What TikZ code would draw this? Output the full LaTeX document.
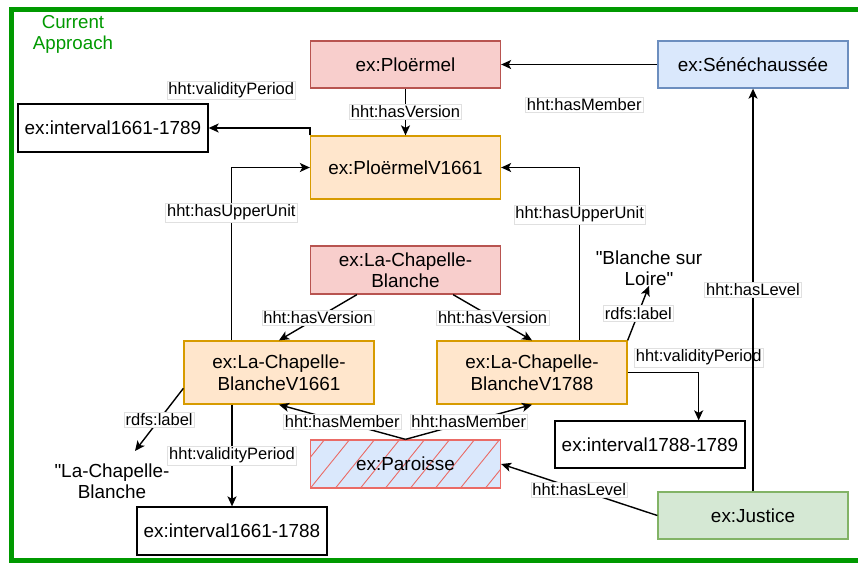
\documentclass[tikz,border=0pt]{standalone}
\usepackage{fontspec}
\setmainfont{Liberation Sans}
\newfontfamily\straightfont{Liberation Sans}
\usetikzlibrary{arrows.meta,calc}

\definecolor{redfill}{HTML}{F8CECC}
\definecolor{redline}{HTML}{B85450}
\definecolor{orangefill}{HTML}{FFE6CC}
\definecolor{orangeline}{HTML}{D79B00}
\definecolor{bluefill}{HTML}{DAE8FC}
\definecolor{blueline}{HTML}{6C8EBF}
\definecolor{greenfill}{HTML}{D5E8D4}
\definecolor{greenline}{HTML}{82B366}
\definecolor{hatchred}{HTML}{EA6B66}
\definecolor{framegreen}{HTML}{009900}

\tikzset{
  box/.style={draw, line width=1.3pt, minimum width=190pt, minimum height=47pt,
    inner sep=2pt, align=center, font=\fontsize{18.9}{21.5}\selectfont},
  tallbox/.style={box, minimum height=63pt},
  redbox/.style={box, fill=redfill, draw=redline},
  bluebox/.style={box, fill=bluefill, draw=blueline},
  greenbox/.style={box, fill=greenfill, draw=greenline},
  orangebox/.style={tallbox, fill=orangefill, draw=orangeline},
  plainbox/.style={box, fill=white, draw=black},
  hatchbox/.style={box, fill=bluefill, draw=hatchred,
    path picture={
      \foreach \k in {-3,...,9}
        \draw[hatchred, line width=0.9pt]
          ([xshift=25pt*\k]path picture bounding box.south west) -- ++(42,-52);
    }},
  literal/.style={align=center, inner sep=0pt,
    font=\straightfont\fontsize{18.9}{21.5}\selectfont},
  rel/.style={draw=black, line width=1.4pt,
    -{Stealth[length=10pt, width=9pt, inset=2.5pt]}},
  lbl/.style={fill=white, draw=black!12, line width=0.4pt, inner sep=1.6pt,
    font=\fontsize{16.5}{19}\selectfont},
}

\begin{document}
\begin{tikzpicture}[x=1pt, y=-1pt]
\useasboundingbox (0,0) rectangle (858,563);

% outer frame and caption
\draw[framegreen, line width=5pt] (11,9.5) rectangle (900,560);
\node[align=center, text=framegreen, font=\fontsize{18.7}{21}\selectfont] (caption) at (73,34.5) {Current\\Approach};

% units and versions
\node[redbox] (plo) at (405.5,64.5) {ex:Ploërmel};
\node[bluebox] (sen) at (753,64.5) {ex:Sénéchaussée};
\node[plainbox, minimum height=48pt] (iA) at (113,128) {ex:interval1661-1789};
\node[orangebox] (pv) at (405.5,167.5) {ex:PloërmelV1661};
\node[redbox, minimum height=48pt] (lcb) at (405.5,270) {ex:La-Chapelle-\\Blanche};
\node[orangebox] (v61) at (279,372.5) {ex:La-Chapelle-\\BlancheV1661};
\node[orangebox] (v88) at (532,372.5) {ex:La-Chapelle-\\BlancheV1788};
\node[plainbox] (iC) at (650,444.5) {ex:interval1788-1789};
\node[hatchbox, minimum height=48pt] (par) at (405.5,464) {ex:Paroisse};
\node[greenbox] (jus) at (753,515.5) {ex:Justice};
\node[plainbox, minimum height=48pt] (iB) at (232,531) {ex:interval1661-1788};

% literals
\node[literal] (lit88) at (649,268) {"Blanche sur\\Loire"};
\node[literal] (lit61) at (112,481) {"La-Chapelle-\\Blanche};
\coordinate (lit61tip) at (135,451);

% relations
\draw[rel] (sen.west) -- node[lbl, pos=0.5, xshift=5pt, yshift=-40pt] {hht:hasMember} (plo.east);
\draw[rel] (plo.south) -- node[lbl] {hht:hasVersion} (pv.north);
\draw[rel] (pv.north west) |- node[lbl, pos=0.75, xshift=-28pt, yshift=38pt] {hht:validityPeriod} (iA.east);

\draw[rel] ([xshift=48pt]v61.north west) |- node[lbl, pos=0.37] {hht:hasUpperUnit} (pv.west);
\draw[rel] ([xshift=-48pt]v88.north east) |- node[lbl, pos=0.364] {hht:hasUpperUnit} (pv.east);

\draw[rel] ([xshift=47pt]lcb.south west) -- node[lbl] {hht:hasVersion} (v61.north);
\draw[rel] ([xshift=-48pt]lcb.south east) -- node[lbl] {hht:hasVersion} (v88.north);

\draw[rel] (v88.north east) -- node[lbl] {rdfs:label} (lit88.south);
\draw[rel] (v88.east) -| node[lbl, pos=0.5, yshift=15pt] {hht:validityPeriod} ([xshift=-47pt]iC.north east);

\draw[rel] ([yshift=-48pt]v61.north west) -- node[lbl] {rdfs:label} (lit61tip);
\draw[rel] (iB.north |- v61.south) -- node[lbl] {hht:validityPeriod} (iB.north);

\draw[rel] (par.north) -- node[lbl] {hht:hasMember} (v61.south);
\draw[rel] (par.north) -- node[lbl] {hht:hasMember} (v88.south);

\draw[rel] (jus.west) -- node[lbl] {hht:hasLevel} (par.east);
\draw[rel] (jus.north) -- node[lbl] {hht:hasLevel} (sen.south);
\end{tikzpicture}
\end{document}
